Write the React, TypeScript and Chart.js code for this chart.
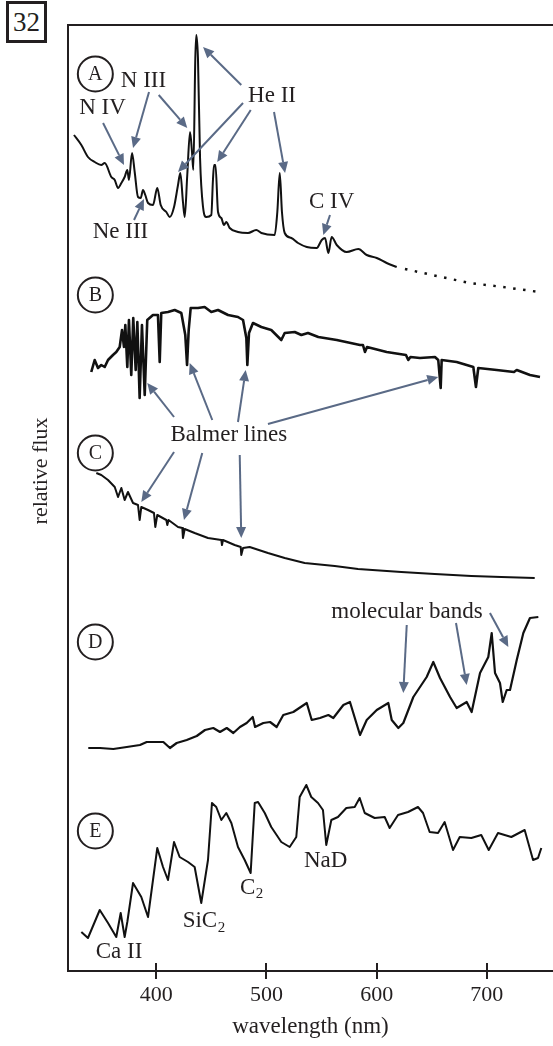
import React, { useEffect, useRef } from "react";
import { Chart, registerables } from "chart.js";

Chart.register(...registerables);

// ---------- axis ----------
const xTicks = [400, 500, 600, 700];
const xMin = 320;
const xMax = 760;
const yMin = 0;
const yMax = 94.6;

// ---------- spectrum A (O/WR star, emission lines) ----------
const aWave = [325.4,332.1,338.1,344.2,350.2,353.3,359.3,362.4,365.4,368.4,371.4,373.8,375.3,378.1,380.5,383.5,386.0,388.0,390.1,392.6,397.1,401.0,404.1,409.2,412.3,416.2,419.8,421.9,424.3,425.9,428.2,430.7,432.5,433.7,435.5,436.4,437.9,439.8,442.5,445.5,450.0,451.5,452.5,453.8,456.1,459.1,461.5,463.6,466.7,474.2,483.3,490.8,495.4,507.5,509.9,512.1,514.1,516.6,522.6,528.7,536.6,545.6,550.2,553.2,556.2,559.2,563.8,572.8,583.4,591.0,600.1,609.1,618.2];
const aFlux = [83.6,82.6,81.4,80.9,80.6,80.8,79.4,79.1,78.3,78.8,79.4,80.1,79.1,81.8,79.9,77.4,77.3,78.1,77.6,76.8,76.6,78.3,76.6,75.9,75.4,76.4,78.6,79.8,76.9,75.4,79.6,83.9,81.9,80.1,91.3,93.6,91.3,81.3,76.4,75.4,75.6,79.1,80.6,80.6,75.9,75.3,74.6,74.9,74.3,73.9,73.8,74.1,73.8,73.6,75.9,79.8,75.9,73.8,73.3,72.8,72.4,72.3,73.1,73.3,71.8,73.4,72.6,71.9,72.2,71.6,71.3,70.8,70.4];
const aExtWave = [625.7, 654.5, 684.7, 714.6, 747.5];
const aExtFlux = [70.2, 69.5, 68.8, 68.4, 67.9];

// ---------- spectrum B ----------
const bWave = [341.1,344.2,347.2,350.2,353.3,356.3,360.8,363.8,366.9,369.0,370.8,372.0,373.8,375.3,377.4,379.2,381.4,382.9,385.0,387.1,389.6,391.9,397.1,401.6,403.2,404.6,410.7,416.8,422.8,426.4,428.0,429.5,431.3,437.9,444.0,450.0,456.1,465.2,474.2,478.8,481.8,482.7,484.2,487.8,495.4,504.4,513.5,516.6,525.7,531.7,537.7,547.1,563.8,584.9,587.6,589.4,591.3,609.1,626.6,628.7,630.7,639.3,652.9,655.9,658.1,659.0,672.6,687.7,690.1,692.2,708.9,724.6,727.1,739.1,748.2];
const bFlux = [59.9,61.1,60.3,60.6,60.4,61.1,61.6,61.9,62.4,64.1,62.4,64.6,60.4,65.1,59.6,65.3,60.1,64.9,57.3,64.6,57.6,65.1,65.6,65.6,60.9,65.8,65.9,66.1,65.8,63.6,60.6,64.1,66.3,66.3,66.4,65.9,66.1,65.6,65.4,65.1,63.3,60.6,63.8,64.8,64.4,64.1,63.1,63.8,63.9,63.6,63.8,63.4,63.1,62.6,62.6,61.9,62.4,61.9,61.6,61.1,61.4,61.3,61.4,61.1,58.3,61.1,60.9,60.4,58.4,60.3,60.1,59.9,60.1,59.6,59.4];

// ---------- spectrum C ----------
const cWave = [345.7,350.2,356.3,362.4,365.4,368.4,371.4,374.4,379.0,383.5,385.0,386.5,392.6,398.0,399.2,401.0,409.2,410.1,411.2,419.8,423.7,424.3,425.9,434.9,447.0,459.1,459.7,460.6,471.2,476.7,477.2,478.8,484.8,501.4,516.6,534.7,562.0,583.1,622.4,652.7,685.9,713.1,743.4];
const cFlux = [49.8,49.6,49.1,48.4,47.4,48.3,47.1,47.9,46.8,46.6,45.1,46.4,46.1,45.8,44.4,45.6,45.1,44.6,45.1,44.4,44.3,43.3,44.2,43.8,43.3,43.1,42.6,43.1,42.6,42.4,41.6,42.3,42.4,41.8,41.3,40.8,40.5,40.2,39.9,39.7,39.5,39.4,39.3];

// ---------- spectrum D ----------
const dWave = [338.4,349.0,361.1,373.3,385.3,391.4,406.5,412.5,418.6,427.7,436.8,444.3,451.8,457.9,464.0,470.0,476.0,482.1,487.6,489.7,497.2,503.3,509.3,515.3,524.4,536.6,541.1,548.6,556.2,560.7,569.8,575.8,584.9,591.0,600.1,610.6,613.7,619.7,624.2,633.3,645.4,651.4,657.5,666.6,672.6,681.7,686.2,693.8,701.3,704.4,707.4,711.9,714.4,718.0,721.0,727.1,733.1,739.1,746.7];
const dFlux = [22.3,22.3,22.2,22.4,22.6,22.9,22.9,22.3,22.8,23.1,23.5,24.1,24.3,23.9,24.3,23.8,24.4,24.8,25.4,24.4,24.8,24.9,24.4,25.6,25.9,26.8,25.1,25.3,25.6,25.3,26.6,26.9,23.6,25.1,26.1,26.8,25.1,24.3,24.8,27.4,29.4,30.9,29.3,27.4,26.3,26.9,25.9,29.8,31.4,33.8,29.8,28.8,26.9,28.1,28.1,31.1,33.8,35.3,35.4];

// ---------- spectrum E ----------
const eWave = [332.1,338.1,348.8,356.3,363.8,367.8,371.4,373.8,379.0,386.5,392.6,401.0,406.2,410.7,416.2,421.3,428.9,434.9,440.9,447.0,450.6,454.5,459.1,463.6,468.2,474.2,480.3,485.7,489.4,492.4,498.5,504.4,513.5,521.1,527.1,530.2,536.2,540.7,546.8,551.3,554.3,558.9,564.9,572.5,580.1,584.6,589.2,598.2,607.3,611.8,619.4,628.5,637.5,642.1,648.1,655.7,661.7,669.3,675.4,685.9,694.9,701.7,710.1,722.2,734.3,741.9,746.4,749.4];
const eFlux = [3.9,3.3,6.1,4.8,3.4,5.8,3.4,4.9,8.8,7.4,5.4,12.3,10.4,9.1,12.9,11.4,10.9,10.4,6.8,11.1,16.8,16.4,15.1,15.8,14.8,12.4,11.1,9.8,16.8,16.9,15.8,14.4,12.9,12.4,13.4,17.4,18.6,17.4,16.8,16.1,12.6,15.1,15.4,16.3,16.4,17.3,15.8,15.3,15.4,14.3,15.6,15.9,16.4,15.8,13.9,13.8,14.9,12.1,13.4,13.3,13.6,12.1,13.8,13.4,14.1,11.1,11.3,12.3];

// ---------- panel letters ----------
const panelLetters = ["A", "B", "C", "D", "E"];
const panelLetterWave = 344.8;
const panelLetterFlux = [89.7, 67.6, 51.8, 32.9, 14.0];

// ---------- line labels ----------
const labelTexts = ["N IV", "N III", "He II", "Ne III", "C IV", "Balmer lines", "molecular bands", "Ca II", "NaD"];
const labelWave = [351.3, 388.5, 505.1, 367.6, 559.2, 465.9, 627.5, 366.3, 553.8];
const labelFlux = [86.3, 89.0, 87.5, 73.9, 76.9, 53.6, 35.9, 1.9, 11.0];

// labels with a subscript
const subBase = ["SiC", "C"];
const subDigit = ["2", "2"];
const subWave = [443.1, 486.3];
const subFlux = [5.0, 8.35];

// ---------- arrows (tail -> head) ----------
const arrowFromWave = [351.8, 393.5, 402.3, 477.2, 478.8, 485.8, 506.9, 379.9, 557.7, 416.2, 450.9, 474.2, 501.4, 416.2, 441.8, 475.8, 627.3, 672.0, 702.8];
const arrowFromFlux = [84.8, 87.9, 87.6, 88.6, 86.8, 86.1, 85.9, 75.1, 75.6, 55.4, 55.1, 54.9, 54.7, 51.9, 51.8, 51.6, 34.6, 34.8, 35.8];
const arrowToWave = [370.8, 379.0, 428.2, 442.5, 419.8, 455.4, 516.9, 388.9, 551.6, 391.9, 430.4, 481.2, 655.9, 386.5, 425.2, 477.2, 624.2, 681.7, 719.5];
const arrowToFlux = [80.6, 82.3, 84.3, 92.4, 79.9, 80.9, 79.8, 77.2, 73.6, 58.8, 60.8, 60.1, 59.4, 46.9, 45.1, 43.3, 27.8, 28.6, 32.4];

const INK = "#231f20";
const ARROW = "#5a6a86";
const FONT = '"Liberation Serif", "Times New Roman", serif';

function zip(w: number[], f: number[]) {
  const n = Math.min(w.length, f.length);
  const out: { x: number; y: number }[] = [];
  for (let i = 0; i < n; i++) out.push({ x: w[i], y: f[i] });
  return out;
}

function drawArrow(ctx: CanvasRenderingContext2D, x1: number, y1: number, x2: number, y2: number) {
  const ang = Math.atan2(y2 - y1, x2 - x1);
  const headLen = 11;
  const headW = 5;
  const bx = x2 - headLen * Math.cos(ang);
  const by = y2 - headLen * Math.sin(ang);
  ctx.beginPath();
  ctx.moveTo(x1, y1);
  ctx.lineTo(bx, by);
  ctx.stroke();
  ctx.beginPath();
  ctx.moveTo(x2, y2);
  ctx.lineTo(bx + headW * Math.sin(ang), by - headW * Math.cos(ang));
  ctx.lineTo(bx - headW * Math.sin(ang), by + headW * Math.cos(ang));
  ctx.closePath();
  ctx.fill();
}

const overlayPlugin = {
  id: "overlay",
  afterDraw(chart: any) {
    const { ctx, chartArea, scales } = chart;
    const xs = scales.x;
    const ys = scales.y;
    const X = (v: number) => xs.getPixelForValue(v);
    const Y = (v: number) => ys.getPixelForValue(v);
    ctx.save();

    // tick marks crossing the axis
    ctx.strokeStyle = INK;
    ctx.lineWidth = 2;
    xTicks.forEach((v) => {
      const px = Math.round(X(v));
      ctx.beginPath();
      ctx.moveTo(px, chartArea.bottom - 8);
      ctx.lineTo(px, chartArea.bottom + 8);
      ctx.stroke();
    });

    // arrows
    ctx.strokeStyle = ARROW;
    ctx.fillStyle = ARROW;
    ctx.lineWidth = 2;
    const na = Math.min(arrowFromWave.length, arrowFromFlux.length, arrowToWave.length, arrowToFlux.length);
    for (let i = 0; i < na; i++) {
      drawArrow(ctx, X(arrowFromWave[i]), Y(arrowFromFlux[i]), X(arrowToWave[i]), Y(arrowToFlux[i]));
    }

    // circled panel letters
    panelLetters.forEach((t, i) => {
      const cx = X(panelLetterWave);
      const cy = Y(panelLetterFlux[i]);
      ctx.beginPath();
      ctx.arc(cx, cy, 17.5, 0, Math.PI * 2);
      ctx.fillStyle = "#ffffff";
      ctx.fill();
      ctx.strokeStyle = INK;
      ctx.lineWidth = 2;
      ctx.stroke();
      ctx.fillStyle = INK;
      ctx.font = `20px ${FONT}`;
      ctx.textAlign = "center";
      ctx.textBaseline = "middle";
      ctx.fillText(t, cx, cy + 1);
    });

    // labels
    ctx.fillStyle = INK;
    ctx.textAlign = "center";
    ctx.textBaseline = "middle";
    ctx.font = `23px ${FONT}`;
    labelTexts.forEach((t, i) => {
      ctx.fillText(t, X(labelWave[i]), Y(labelFlux[i]));
    });

    // subscript labels
    subBase.forEach((t, i) => {
      ctx.font = `23px ${FONT}`;
      const w1 = ctx.measureText(t).width;
      ctx.font = `15px ${FONT}`;
      const w2 = ctx.measureText(subDigit[i]).width;
      const left = X(subWave[i]) - (w1 + w2) / 2;
      const cy = Y(subFlux[i]);
      ctx.textAlign = "left";
      ctx.font = `23px ${FONT}`;
      ctx.fillText(t, left, cy);
      ctx.font = `15px ${FONT}`;
      ctx.fillText(subDigit[i], left + w1 + 0.5, cy + 7);
    });

    // y axis title
    ctx.font = `22px ${FONT}`;
    ctx.textAlign = "center";
    ctx.textBaseline = "middle";
    ctx.translate(chartArea.left - 27, Y(50));
    ctx.rotate(-Math.PI / 2);
    ctx.fillText("relative flux", 0, 0);

    ctx.restore();
  },
};

export default function App() {
  const canvasRef = useRef<HTMLCanvasElement | null>(null);

  useEffect(() => {
    document.body.style.margin = "0";
    const canvas = canvasRef.current;
    if (!canvas) return;

    const lineDs = (label: string, w: number[], f: number[], width: number, smooth = false) => ({
      label,
      data: zip(w, f),
      borderColor: "#111111",
      borderWidth: width,
      pointRadius: 0,
      tension: smooth ? 0.4 : 0,
      cubicInterpolationMode: smooth ? ("monotone" as const) : ("default" as const),
      fill: false,
      borderJoinStyle: "round" as const,
    });

    const chart = new Chart(canvas, {
      type: "line",
      data: {
        datasets: [
          lineDs("A", aWave, aFlux, 2, true),
          {
            ...lineDs("A (extrapolated)", aExtWave, aExtFlux, 2.5),
            borderDash: [2.5, 7.5],
          },
          lineDs("B", bWave, bFlux, 2.6),
          lineDs("C", cWave, cFlux, 2),
          lineDs("D", dWave, dFlux, 2.2),
          lineDs("E", eWave, eFlux, 2),
        ],
      },
      options: {
        animation: false,
        responsive: true,
        maintainAspectRatio: false,
        layout: { padding: { top: 25, left: 0, right: 0, bottom: 0 } },
        plugins: {
          legend: { display: false },
          tooltip: { enabled: false },
        },
        scales: {
          x: {
            type: "linear",
            position: "bottom",
            min: xMin,
            max: xMax,
            afterBuildTicks: (s: any) => {
              s.ticks = xTicks.map((v) => ({ value: v }));
            },
            afterFit: (s: any) => {
              s.height = 75;
            },
            grid: { display: false, drawTicks: false },
            border: { display: true, color: INK, width: 2 },
            ticks: {
              color: INK,
              font: { family: FONT, size: 22 },
              padding: 11,
              maxRotation: 0,
              autoSkip: false,
              callback: (v: any) => String(v),
            },
            title: {
              display: true,
              text: "wavelength (nm)",
              color: INK,
              font: { family: FONT, size: 23 },
              padding: { top: 0, bottom: 5 },
            },
          },
          xTop: {
            type: "linear",
            position: "top",
            min: xMin,
            max: xMax,
            afterFit: (s: any) => {
              s.height = 0;
            },
            grid: { display: false, drawTicks: false },
            ticks: { display: false },
            border: { display: true, color: INK, width: 2 },
          },
          y: {
            type: "linear",
            min: yMin,
            max: yMax,
            afterFit: (s: any) => {
              s.width = 68;
            },
            grid: { display: false, drawTicks: false },
            ticks: { display: false },
            border: { display: true, color: INK, width: 2 },
          },
        },
      } as any,
      plugins: [overlayPlugin],
    });

    return () => {
      chart.destroy();
    };
  }, []);

  return (
    <div style={{ position: "relative", width: 553, height: 1046, background: "#fff" }}>
      <canvas ref={canvasRef} />
      <div
        style={{
          position: "absolute",
          left: 6,
          top: 1,
          width: 35,
          height: 36,
          border: `3px solid ${INK}`,
          fontFamily: FONT,
          fontSize: 27,
          lineHeight: "36px",
          textAlign: "center",
          color: INK,
          background: "#fff",
        }}
      >
        32
      </div>
    </div>
  );
}
